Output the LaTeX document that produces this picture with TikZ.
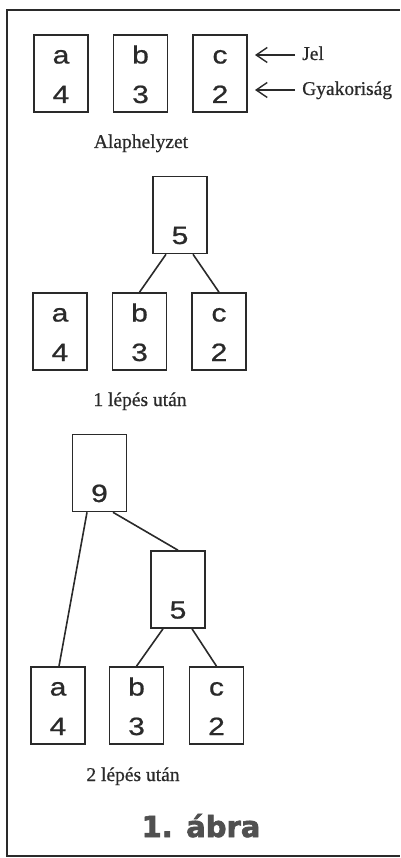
\documentclass[tikz,border=0pt]{standalone}
\usepackage{fontspec}
\setmainfont{Liberation Serif}[FakeBold=0.6]
\newfontfamily\boxfont{Liberation Sans}[FakeStretch=1.2,FakeBold=0.8]
\newfontfamily\titlefont{DejaVu Sans}[FakeBold=2.2]
\usetikzlibrary{calc,arrows.meta}
\definecolor{ink}{HTML}{2A2A2A}
\definecolor{titlegray}{HTML}{505050}
\tikzset{
  cell/.style={draw=ink, line width=1.6pt, rectangle, minimum width=54pt, minimum height=77pt, inner sep=0pt},
  celltxt/.style={anchor=base, inner sep=0pt, font=\boxfont\fontsize{25}{25}\selectfont, text=ink},
  lbl/.style={inner sep=0pt, font=\fontsize{19.5}{20}\selectfont, text=ink},
  edge/.style={draw=ink, line width=1.6pt},
  pointer/.style={draw=ink, line width=1.4pt, -{Straight Barb[length=11pt,width=15pt,line width=1.4pt]}},
  frame/.style={draw=ink, line width=1.6pt}
}
\newcommand{\mkcell}[5]{%
  \node[cell] (#1) at (#2,#3) {};
  \node[celltxt] (#1-l) at ($(#1.center)+(0,-10)$) {#4};
  \node[celltxt] (#1-d) at ($(#1.center)+(0,29.5)$) {#5};
}
\newcommand{\mksum}[4]{%
  \node[cell] (#1) at (#2,#3) {};
  \node[celltxt] (#1-d) at ($(#1.center)+(0,29)$) {#4};
}
\begin{document}
\begin{tikzpicture}[x=1pt,y=-1pt]
\useasboundingbox (0,0) rectangle (400,858);
% frame
\coordinate (fr1) at (400,10);
\coordinate (fr2) at (7,10);
\coordinate (fr3) at (7,856);
\coordinate (fr4) at (400,856);
\draw[frame] (fr1) -- (fr2) -- (fr3) -- (fr4);

% row 1
\mkcell{a0}{61}{73.5}{a}{4}
\mkcell{b0}{140.5}{73.5}{b}{3}
\mkcell{c0}{220}{73.5}{c}{2}
\node[lbl, anchor=base west] (jel) at (302,60) {Jel};
\node[lbl, anchor=base west] (gyak) at (302,95) {Gyakoriság};
\coordinate (jt) at (295,55);
\coordinate (jh) at (255,55);
\coordinate (gt) at (295,90);
\coordinate (gh) at (255,90);
\draw[pointer] (jt) -- (jh);
\draw[pointer] (gt) -- (gh);
\node[lbl, anchor=base] (cap0) at (141,148) {Alaphelyzet};

% row 2
\mksum{s1}{180}{215}{5}
\mkcell{a1}{60}{331.5}{a}{4}
\mkcell{b1}{139.5}{331.5}{b}{3}
\mkcell{c1}{219}{331.5}{c}{2}
\draw[edge] ($(s1.south)+(-14,0)$) -- (b1.north);
\draw[edge] ($(s1.south)+(13,0)$) -- (c1.north);
\node[lbl, anchor=base] (cap1) at (140,406) {1 lépés után};

% row 3
\mksum{n9}{99.5}{473}{9}
\mksum{s2}{178}{589.5}{5}
\mkcell{a2}{58}{705.5}{a}{4}
\mkcell{b2}{136.5}{705.5}{b}{3}
\mkcell{c2}{216.5}{705.5}{c}{2}
\draw[edge] ($(n9.south)+(-12.5,0)$) -- ($(a2.north)+(1,0)$);
\draw[edge] ($(n9.south)+(13.5,0)$) -- (s2.north);
\draw[edge] ($(s2.south)+(-15,0)$) -- (b2.north);
\draw[edge] ($(s2.south)+(14,0)$) -- (c2.north);
\node[lbl, anchor=base] (cap2) at (133,781) {2 lépés után};

% title
\node[inner sep=0pt, anchor=base, text=titlegray, font=\titlefont\bfseries\fontsize{29}{29}\selectfont] (title) at (201,837) {1. ábra};
\end{tikzpicture}
\end{document}
